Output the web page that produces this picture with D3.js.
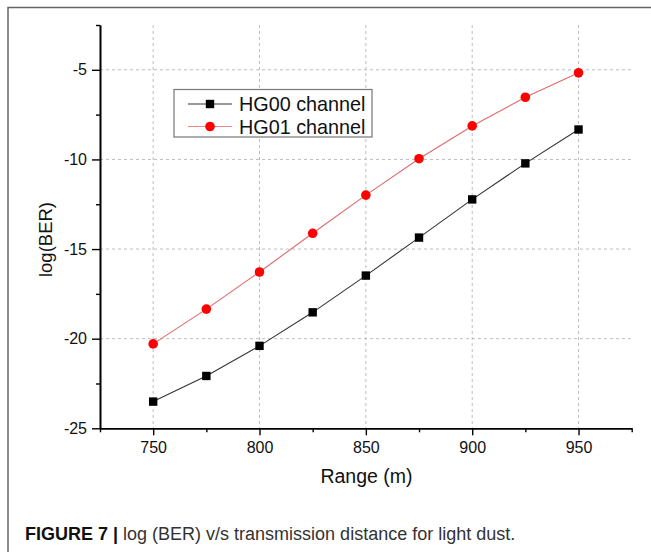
<!DOCTYPE html>
<html>
<head>
<meta charset="utf-8">
<script src="https://cdn.jsdelivr.net/npm/d3@7"></script>
<style>
  html, body { margin: 0; padding: 0; background: #fff; }
  svg { display: block; }
  text { font-family: "Liberation Sans", Arial, Helvetica, sans-serif; fill: #111; }
</style>
</head>
<body>
<svg id="chart" width="651" height="552"></svg>
<script>
// ---- data ----
const ranges = [750, 775, 800, 825, 850, 875, 900, 925, 950];
const hg00 = [-23.51, -22.08, -20.40, -18.53, -16.48, -14.36, -12.23, -10.22, -8.33];
const hg01 = [-20.29, -18.35, -16.28, -14.12, -11.99, -9.96, -8.13, -6.53, -5.17];
const seriesNames = ["HG00 channel", "HG01 channel"];
const xTicks = [750, 800, 850, 900, 950];
const xMinorTicks = [725, 775, 825, 875, 925, 975];
const yTicks = [-25, -20, -15, -10, -5];
const yMinorTicks = [-22.5, -17.5, -12.5, -7.5, -2.5];
const xTitle = "Range (m)";
const yTitle = "log(BER)";
const captionBold = "FIGURE 7 | ";
const captionText = "log (BER) v/s transmission distance for light dust.";

const svg = d3.select("#chart");

// figure frame (top and left edges)
svg.append("path").attr("d", "M8,651 L8,7.5 L651,7.5")
  .attr("fill", "none").attr("stroke", "#666").attr("stroke-width", 1.5);

const x = d3.scaleLinear().domain([725, 975]).range([100, 631.7]);
const y = d3.scaleLinear().domain([-25, -2.5]).range([428.3, 25]);

// grid
const grid = svg.append("g").attr("stroke", "#bdbdbd").attr("stroke-width", 1).attr("stroke-dasharray", "3,3");
xTicks.forEach(v => grid.append("line").attr("x1", x(v)).attr("x2", x(v)).attr("y1", y(-2.5)).attr("y2", y(-25)));
yTicks.filter(v => v !== -25).forEach(v => grid.append("line").attr("x1", x(725)).attr("x2", x(975)).attr("y1", y(v)).attr("y2", y(v)));

const fmt = v => String(v);

// axes
const xAxisMinor = svg.append("g").attr("transform", `translate(0,${y(-25)})`)
  .call(d3.axisBottom(x).tickValues(xMinorTicks).tickSize(4).tickSizeOuter(0).tickFormat(""));
const xAxis = svg.append("g").attr("transform", `translate(0,${y(-25)})`)
  .call(d3.axisBottom(x).tickValues(xTicks).tickSize(7).tickSizeOuter(0).tickPadding(6).tickFormat(fmt));
const yAxisMinor = svg.append("g").attr("transform", `translate(${x(725)},0)`)
  .call(d3.axisLeft(y).tickValues(yMinorTicks).tickSize(4).tickSizeOuter(0).tickFormat(""));
const yAxis = svg.append("g").attr("transform", `translate(${x(725)},0)`)
  .call(d3.axisLeft(y).tickValues(yTicks).tickSize(8).tickSizeOuter(0).tickPadding(5).tickFormat(fmt));

[xAxisMinor, xAxis, yAxisMinor, yAxis].forEach(g => {
  g.attr("font-size", null).attr("font-family", null);
  g.selectAll("path.domain").attr("stroke", "#000").attr("stroke-width", 1.6);
  g.selectAll(".tick line").attr("stroke", "#000").attr("stroke-width", 1.4);
  g.selectAll(".tick text").attr("font-size", 16).attr("fill", "#111");
});

// axis titles
svg.append("text").attr("x", 366.5).attr("y", 483).attr("text-anchor", "middle")
  .attr("font-size", 19.5).text(xTitle);
svg.append("text").attr("transform", "translate(52,239.5) rotate(-90)").attr("text-anchor", "middle")
  .attr("font-size", 18.5).text(yTitle);

// lines
const line = d3.line().x((d, i) => x(ranges[i])).y(d => y(d));
svg.append("path").datum(hg00).attr("d", line).attr("fill", "none").attr("stroke", "#333").attr("stroke-width", 1.1);
svg.append("path").datum(hg01).attr("d", line).attr("fill", "none").attr("stroke", "#e06a6a").attr("stroke-width", 1.1);

// markers
svg.append("g").selectAll("rect").data(hg00).join("rect")
  .attr("x", (d, i) => x(ranges[i]) - 4.2).attr("y", d => y(d) - 4.2)
  .attr("width", 8.4).attr("height", 8.4).attr("fill", "#000");
svg.append("g").selectAll("circle").data(hg01).join("circle")
  .attr("cx", (d, i) => x(ranges[i])).attr("cy", d => y(d)).attr("r", 4.8).attr("fill", "#ff0000");

// legend
const lg = svg.append("g");
lg.append("rect").attr("x", 174).attr("y", 89.5).attr("width", 198).attr("height", 47.5)
  .attr("fill", "#fff").attr("stroke", "#777").attr("stroke-width", 1.2);
const rows = [{name: seriesNames[0], y: 104, color: "#333", mark: "sq"},
              {name: seriesNames[1], y: 126.5, color: "#e88", mark: "ci"}];
rows.forEach(r => {
  lg.append("line").attr("x1", 188).attr("x2", 232).attr("y1", r.y).attr("y2", r.y)
    .attr("stroke", r.color).attr("stroke-width", 1.1);
  if (r.mark === "sq") {
    lg.append("rect").attr("x", 210 - 4.2).attr("y", r.y - 4.2).attr("width", 8.4).attr("height", 8.4).attr("fill", "#000");
  } else {
    lg.append("circle").attr("cx", 210).attr("cy", r.y).attr("r", 4.8).attr("fill", "#ff0000");
  }
  lg.append("text").attr("x", 239).attr("y", r.y + 7).attr("font-size", 19.8).text(r.name);
});

// caption
const cap = svg.append("text").attr("x", 25).attr("y", 540).attr("font-size", 18);
cap.append("tspan").attr("font-weight", "bold").text(captionBold);
cap.append("tspan").attr("fill", "#333").text(captionText);
</script>
</body>
</html>
